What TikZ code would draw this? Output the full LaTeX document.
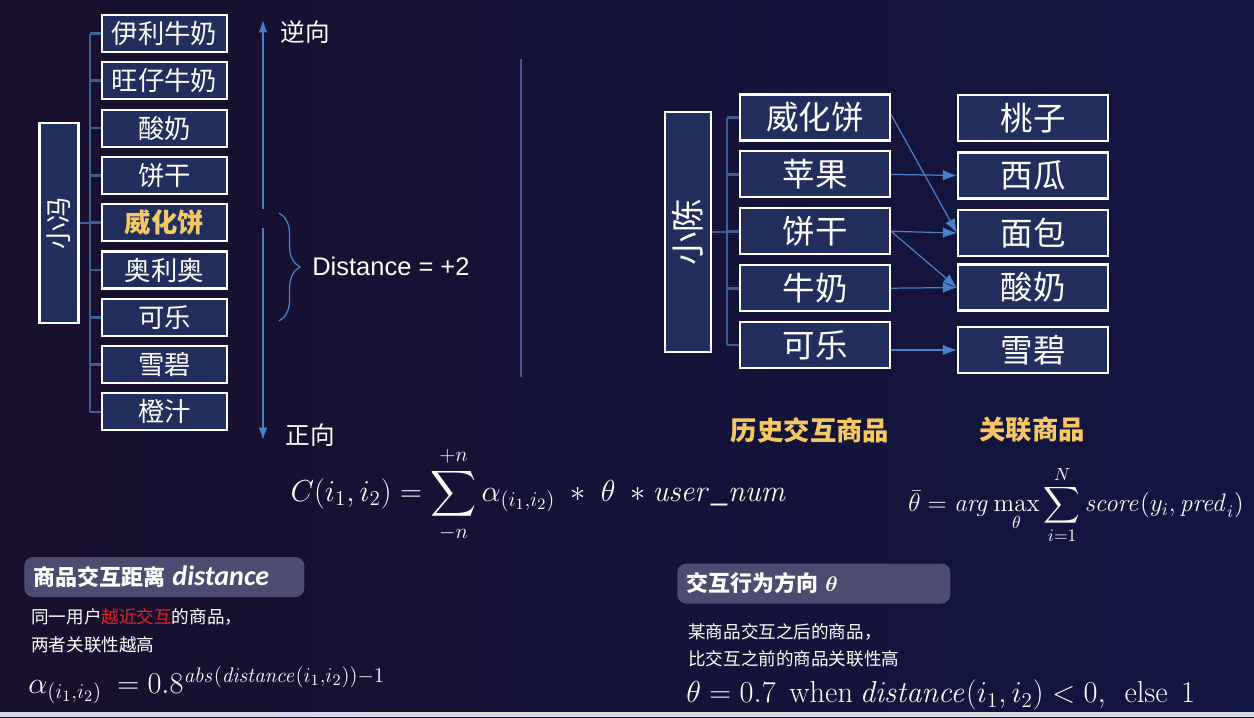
\documentclass[tikz,border=0pt]{standalone}
\usepackage{amsmath}
\usepackage{amssymb}
\usepackage{bm}
\usepackage{xcolor}
\usepackage[no-math]{fontspec}
\setmainfont{Noto Sans CJK SC}
\newfontfamily\calib{Carlito}
\newfontfamily\arialish{Liberation Sans}
\usepackage{tikz}
\usetikzlibrary{
	arrows.meta,
	calc,
	decorations.pathreplacing,
	positioning
}

\definecolor{bgleft}{RGB}{24,16,44}
\definecolor{bgright}{RGB}{18,22,66}
\definecolor{boxblue}{RGB}{34,47,94}
\definecolor{treeblue}{RGB}{62,95,150}
\definecolor{arrowblue}{RGB}{74,128,200}
\definecolor{gold}{RGB}{245,200,100}
\definecolor{tagbg}{RGB}{76,75,112}
\definecolor{hotred}{RGB}{232,30,40}
\definecolor{sepblue}{RGB}{78,86,148}
\definecolor{stripgray}{RGB}{215,215,225}

\tikzset{
	itembox/.style={draw=white, line width=1.2pt, fill=boxblue, text=white, inner sep=0pt,
		minimum width=2.5cm, minimum height=0.74cm, font=\fontsize{15}{18}\selectfont},
	histbox/.style={itembox, minimum width=3cm, minimum height=0.92cm, font=\fontsize{18.5}{22}\selectfont},
	userbox/.style={itembox, rotate=90},
	treeline/.style={treeblue, line width=1.5pt},
	axisline/.style={arrowblue, line width=0.9pt},
	linkarrow/.style={arrowblue, line width=0.7pt, -{Latex[length=8pt,width=6pt]}},
	tagbox/.style={fill=tagbg, rounded corners=5pt, text=white, inner xsep=0.18cm, inner ysep=0pt,
		minimum height=0.8cm, align=left, anchor=west, font=\fontsize{12.5}{15}\selectfont\bfseries},
	plain/.style={text=white, inner sep=0pt},
	note/.style={plain, anchor=west, font=\fontsize{10}{12}\selectfont},
	goldtitle/.style={plain, text=gold, font=\fontsize{15}{18}\selectfont\bfseries}
}

\begin{document}
\begin{tikzpicture}[x=0.02cm, y=-0.02cm]
	% background
	\useasboundingbox (0,0) rectangle (1254,717);
	\fill[left color=bgleft, right color=bgright] (0,0) rectangle (1254,717);
	\fill[stripgray] (0,712) rectangle (1254,717);

	% left: one user, items in order of interaction
	\node[userbox, minimum width=4cm, minimum height=0.78cm] (feng) at (59,223) {小冯};
	\foreach \txt [count=\i] in {伊利牛奶, 旺仔牛奶, 酸奶, 饼干, {\textcolor{gold}{\bfseries 威化饼}}, 奥利奥, 可乐, 雪碧, 橙汁}
		\node[itembox] (a\i) at (164.5, {33.5+47.3*(\i-1)}) {\txt};
	\coordinate (atrunk) at (90,0);
	\draw[treeline] (a1.west -| atrunk) -- (a9.west -| atrunk);
	\foreach \i in {1,...,9}
		\draw[treeline] (a\i.west) -- (a\i.west -| atrunk);
	\draw[treeline] (feng) -- (feng -| atrunk);

	% direction axis
	\coordinate (up) at (263,20);
	\coordinate (down) at (263,440);
	\coordinate (gaptop) at (263,209);
	\coordinate (gapbot) at (263,228);
	\draw[axisline, -{Latex[length=7pt,width=5pt]}] (gaptop) -- (up);
	\draw[axisline, -{Latex[length=7pt,width=5pt]}] (gapbot) -- (down);
	\node[plain, font=\fontsize{14}{16}\selectfont] (back) at (305,32) {逆向};
	\node[plain, font=\fontsize{14}{16}\selectfont] (fwd) at (310,435) {正向};

	% distance brace
	\coordinate (brtop) at (279,213);
	\coordinate (brbot) at (279,321);
	\draw[axisline, line width=0.7pt, decorate, decoration={brace, amplitude=12pt}] (brtop) -- (brbot);
	\node[plain, anchor=west, font=\arialish\fontsize{14.5}{17}\selectfont] (dist) at (312,266) {Distance = +2};

	% separator
	\draw[sepblue, line width=0.6pt] (521,59) -- (521,377);

	% right: history items and related items
	\node[userbox, minimum width=4.8cm, minimum height=0.92cm, font=\fontsize{19}{22}\selectfont] (chen) at (688,232) {小陈};
	\foreach \txt [count=\i] in {威化饼, 苹果, 饼干, 牛奶, 可乐}
		\node[histbox] (h\i) at (815, {117.5+56.9*(\i-1)}) {\txt};
	\foreach \y/\txt [count=\i] in {118/桃子, 175.5/西瓜, 233/面包, 287.5/酸奶, 350/雪碧}
		\node[histbox] (r\i) at (1033,\y) {\txt};
	\coordinate (htrunk) at (727,0);
	\draw[treeline] (h1.west -| htrunk) -- (h5.west -| htrunk);
	\foreach \i in {1,...,5}
		\draw[treeline] (h\i.west) -- (h\i.west -| htrunk);
	\draw[treeline] (chen) -- (chen -| htrunk);

	\draw[linkarrow] ($(h1.east)+(0,-3)$) -- (r3.west);
	\draw[linkarrow] (h2.east) -- (r2.west);
	\draw[linkarrow] (h3.east) -- (r3.west);
	\draw[linkarrow] (h3.east) -- (r4.west);
	\draw[linkarrow] (h4.east) -- (r4.west);
	\draw[linkarrow] (h5.east |- r5.west) -- (r5.west);

	\node[goldtitle] (histlbl) at (810,430) {历史交互商品};
	\node[goldtitle] (rellbl) at (1032,430) {关联商品};

	% formulas
	\node[plain, font=\fontsize{18.2}{21}\selectfont] (cfml) at (539,495)
		{$\displaystyle C(i_1,i_2) = \sum_{-n}^{+n} \alpha_{(i_1,i_2)} \;\ast\; \theta \;\ast \mathit{user\_num}$};
	\node[plain, font=\fontsize{14.5}{17}\selectfont] (thfml) at (1076,505)
		{$\displaystyle \bar{\theta} = \mathit{arg}\max_{\theta}\sum_{i=1}^{N} \mathit{score}(y_i,\mathit{pred}_i)$};

	% distance explanation
	\node[tagbox, text width=5.24cm] (disttag) at (24,577) {商品交互距离 {\calib\fontsize{16}{18}\selectfont\itshape distance}};
	\node[note] (dnote1) at (31,617) {同一用户\textcolor{hotred}{越近交互}的商品，};
	\node[note] (dnote2) at (31,645) {两者关联性越高};
	\node[plain, anchor=west, font=\fontsize{17.3}{20}\selectfont] (afml) at (28,685)
		{$\alpha_{(i_1,i_2)}\ = 0.8^{\mathit{abs}(\mathit{distance}(i_1,i_2))-1}$};

	% direction explanation
	\node[tagbox, text width=5.1cm] (dirtag) at (677,583.5) {交互行为方向 $\boldsymbol{\theta}$};
	\node[note] (tnote1) at (688,632) {某商品交互之后的商品，};
	\node[note] (tnote2) at (688,659) {比交互之前的商品关联性高};
	\node[plain, anchor=west, font=\fontsize{17.3}{20}\selectfont] (tfml) at (686,695)
		{$\theta = 0.7\ \ \mathrm{when}\ \mathit{distance}(i_1,i_2) < 0,\ \ \mathrm{else}\ \ 1$};
\end{tikzpicture}
\end{document}
